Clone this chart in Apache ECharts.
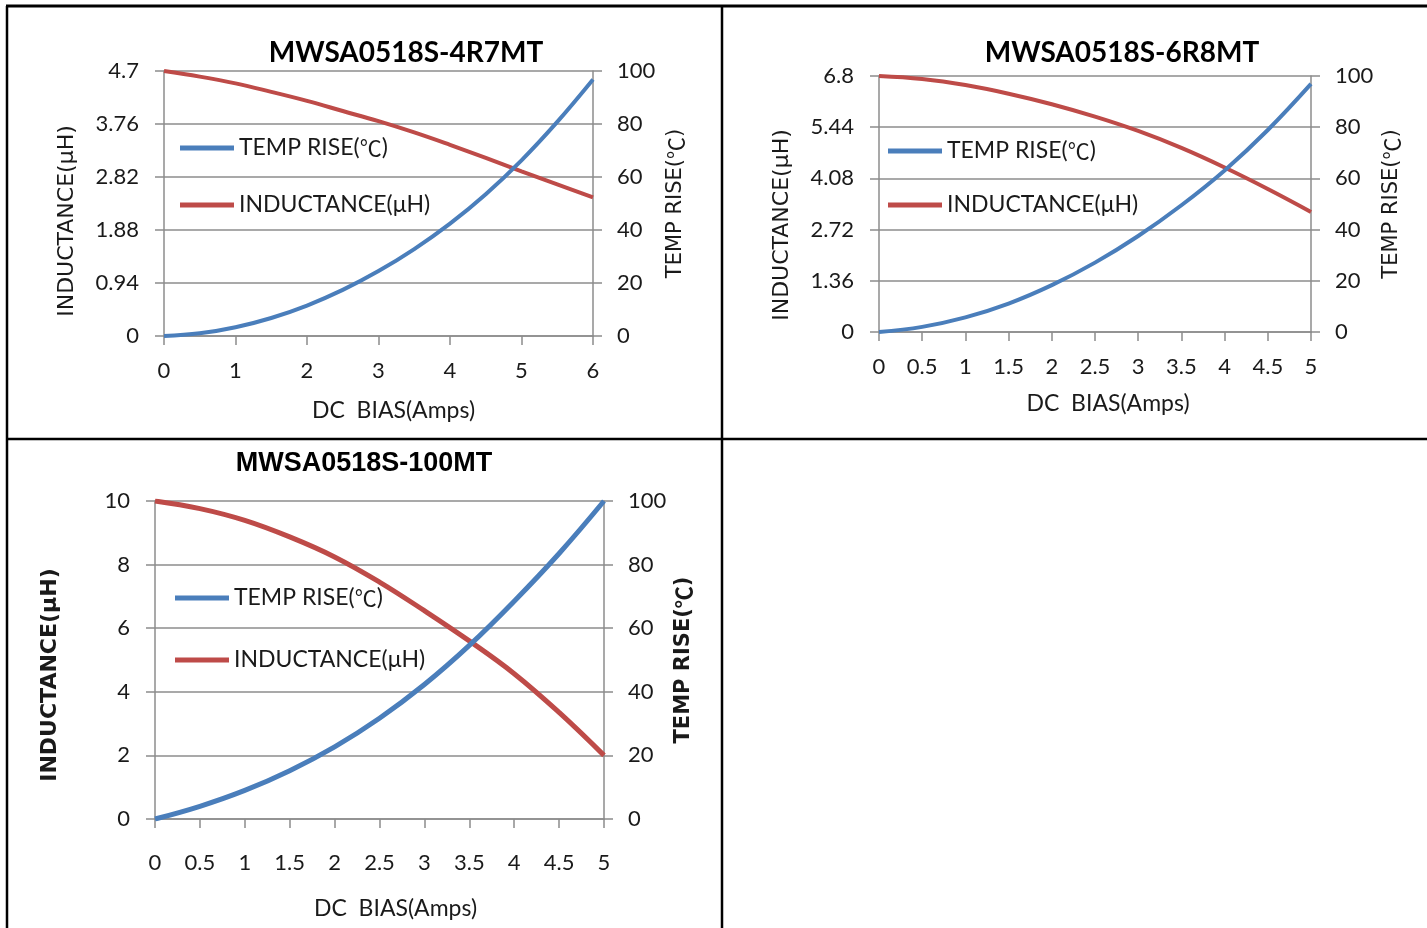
<!DOCTYPE html>
<html>
<head>
<meta charset="utf-8">
<script src="https://cdn.jsdelivr.net/npm/echarts@6/dist/echarts.min.js"></script>
<style>
html,body{margin:0;padding:0;background:#fff;}
#c{width:1427px;height:928px;}
</style>
</head>
<body>
<div id="c"></div>
<script>
// ---------- data ----------
const titles = ['MWSA0518S-4R7MT', 'MWSA0518S-6R8MT', 'MWSA0518S-100MT'];
const tempName = 'TEMP RISE(℃)';
const indName = 'INDUCTANCE(μH)';
const xName = 'DC  BIAS(Amps)';

const c1X = [0, 0.5, 1, 1.5, 2, 2.5, 3, 3.5, 4, 4.5, 5, 5.5, 6];
const c1Temp = [0, 1.0, 3.3, 6.8, 11.5, 17.4, 24.5, 32.8, 42.4, 53.5, 66.3, 80.8, 96.8];
const c1Ind = [4.7, 4.6, 4.48, 4.33, 4.17, 3.99, 3.81, 3.61, 3.39, 3.16, 2.92, 2.69, 2.46];

const c2X = [0, 0.5, 1, 1.5, 2, 2.5, 3, 3.5, 4, 4.5, 5];
const c2Temp = [0, 2, 5.7, 11.1, 18.3, 27.1, 37.5, 49.5, 63.1, 78.9, 96.9];
const c2Ind = [6.8, 6.72, 6.56, 6.33, 6.05, 5.72, 5.34, 4.89, 4.37, 3.8, 3.19];

const c3X = [0, 0.5, 1, 1.5, 2, 2.5, 3, 3.5, 4, 4.5, 5];
const c3Temp = [0, 4, 9, 15.2, 22.7, 31.7, 42.3, 54.6, 68.5, 83.5, 100];
const c3Ind = [10, 9.76, 9.39, 8.87, 8.24, 7.45, 6.55, 5.6, 4.57, 3.35, 2.0];

const c1IndTicks = {min: 0, max: 4.7, interval: 0.94};
const c2IndTicks = {min: 0, max: 6.8, interval: 1.36};
const c3IndTicks = {min: 0, max: 10, interval: 2};
const tempTicks = {min: 0, max: 100, interval: 20};

// ---------- styles ----------
const BLUE = '#4A7EBB';
const RED = '#BE4B48';
const GRIDC = '#8c8c8c';
const TXT = '#1a1a1a';
const CJK = '"Noto Sans CJK SC"';
const zip = (xs, ys) => xs.map((x, i) => [x, ys[i]]);
const fmt = v => String(Math.round(v * 100) / 100);
const richDeg = s => s.replace('℃', '{c|℃}');

const grids = [
  {left: 164, top: 71, width: 429, height: 265},
  {left: 879, top: 76, width: 432, height: 256},
  {left: 155, top: 501, width: 449, height: 318}
];

function xAxis(gi, max, interval, labelMargin, nameGap, namePadL) {
  return {
    type: 'value', gridIndex: gi, min: 0, max: max, interval: interval,
    axisLine: {show: true, lineStyle: {color: GRIDC, width: 1.5}},
    axisTick: {show: true, inside: false, length: 9, lineStyle: {color: GRIDC, width: 1.5}},
    splitLine: {show: false},
    axisLabel: {margin: labelMargin, color: TXT, fontFamily: 'Lato', fontSize: 22, formatter: fmt},
    name: xName, nameLocation: 'middle', nameGap: nameGap,
    nameTextStyle: {fontFamily: 'Lato', fontSize: 23, color: TXT, padding: [0, 0, 0, namePadL]}
  };
}
function yLeft(gi, t, nameGap, padR, bold) {
  return {
    type: 'value', gridIndex: gi, position: 'left', min: t.min, max: t.max, interval: t.interval,
    axisLine: {show: true, lineStyle: {color: GRIDC, width: 1.5}},
    axisTick: {show: true, inside: false, length: 9, lineStyle: {color: GRIDC, width: 1.5}},
    splitLine: {show: true, lineStyle: {color: GRIDC, width: 1.5}},
    axisLabel: {margin: 25, color: TXT, fontFamily: 'Lato', fontSize: 22, formatter: fmt},
    name: indName, nameLocation: 'middle', nameGap: nameGap,
    nameTextStyle: {fontFamily: 'DejaVu Sans', fontSize: 22, fontWeight: bold ? 'bold' : 'normal', color: TXT, padding: [0, padR, 0, 0]}
  };
}
function yRight(gi, nameGap, bold) {
  const fw = bold ? 'bold' : 'normal';
  return {
    type: 'value', gridIndex: gi, position: 'right', min: tempTicks.min, max: tempTicks.max, interval: tempTicks.interval,
    axisLine: {show: true, lineStyle: {color: GRIDC, width: 1.5}},
    axisTick: {show: true, inside: false, length: 9, lineStyle: {color: GRIDC, width: 1.5}},
    splitLine: {show: false},
    axisLabel: {margin: 24, color: TXT, fontFamily: 'Lato', fontSize: 22},
    name: richDeg(tempName), nameLocation: 'middle', nameGap: nameGap,
    nameTextStyle: {fontFamily: 'DejaVu Sans', fontSize: 21, fontWeight: fw, color: TXT,
      rich: {c: {fontFamily: CJK, fontSize: 22, fontWeight: fw, color: TXT}}}
  };
}
function legend(name, left, cy) {
  return {
    data: [name], left: left, top: cy - 13, padding: 0, icon: 'rect',
    itemWidth: 54, itemHeight: 5, selectedMode: false,
    formatter: n => richDeg(n),
    textStyle: {fontFamily: 'Lato', fontSize: 23, lineHeight: 26, color: TXT,
      rich: {c: {fontFamily: CJK, fontSize: 22, lineHeight: 26, color: TXT}}}
  };
}
function line(name, xi, yi, data, color, width) {
  return {
    type: 'line', name: name, xAxisIndex: xi, yAxisIndex: yi, data: data,
    smooth: 0.4, showSymbol: false, symbol: 'none',
    lineStyle: {width: width, color: color}, itemStyle: {color: color}
  };
}

const chart = echarts.init(document.getElementById('c'));
chart.setOption({
  animation: false,
  title: [
    {text: titles[0], left: 406, top: 39, textAlign: 'center', padding: 0,
      textStyle: {fontFamily: 'Lato', fontWeight: 'bold', fontSize: 28, color: '#000'}},
    {text: titles[1], left: 1122, top: 39, textAlign: 'center', padding: 0,
      textStyle: {fontFamily: 'Lato', fontWeight: 'bold', fontSize: 28, color: '#000'}},
    {text: titles[2], left: 364, top: 450, textAlign: 'center', padding: 0,
      textStyle: {fontFamily: 'Liberation Sans', fontWeight: 'bold', fontSize: 27, color: '#000'}}
  ],
  legend: [
    legend(tempName, 180, 148), legend(indName, 180, 205),
    legend(tempName, 888, 151), legend(indName, 888, 205),
    legend(tempName, 175, 598), legend(indName, 175, 660)
  ],
  grid: grids,
  xAxis: [
    xAxis(0, 6, 1, 24, 63, 30),
    xAxis(1, 5, 0.5, 24, 60, 26),
    xAxis(2, 5, 0.5, 33, 78, 32)
  ],
  yAxis: [
    yLeft(0, c1IndTicks, 86, 35, false), yRight(0, 72, false),
    yLeft(1, c2IndTicks, 86, 42, false), yRight(1, 70, false),
    yLeft(2, c3IndTicks, 94, 30, true), yRight(2, 69, true)
  ],
  series: [
    line(indName, 0, 0, zip(c1X, c1Ind), RED, 4),
    line(tempName, 0, 1, zip(c1X, c1Temp), BLUE, 4),
    line(indName, 1, 2, zip(c2X, c2Ind), RED, 4),
    line(tempName, 1, 3, zip(c2X, c2Temp), BLUE, 4),
    line(indName, 2, 4, zip(c3X, c3Ind), RED, 5),
    line(tempName, 2, 5, zip(c3X, c3Temp), BLUE, 5)
  ],
  graphic: [
    {type: 'line', shape: {x1: 6, y1: 6, x2: 1427, y2: 6}, style: {stroke: '#000', lineWidth: 3}},
    {type: 'line', shape: {x1: 7, y1: 6, x2: 7, y2: 928}, style: {stroke: '#000', lineWidth: 2.5}},
    {type: 'line', shape: {x1: 722, y1: 6, x2: 722, y2: 928}, style: {stroke: '#000', lineWidth: 2.5}},
    {type: 'line', shape: {x1: 7, y1: 439, x2: 1427, y2: 439}, style: {stroke: '#000', lineWidth: 2.5}}
  ]
});
</script>
</body>
</html>
